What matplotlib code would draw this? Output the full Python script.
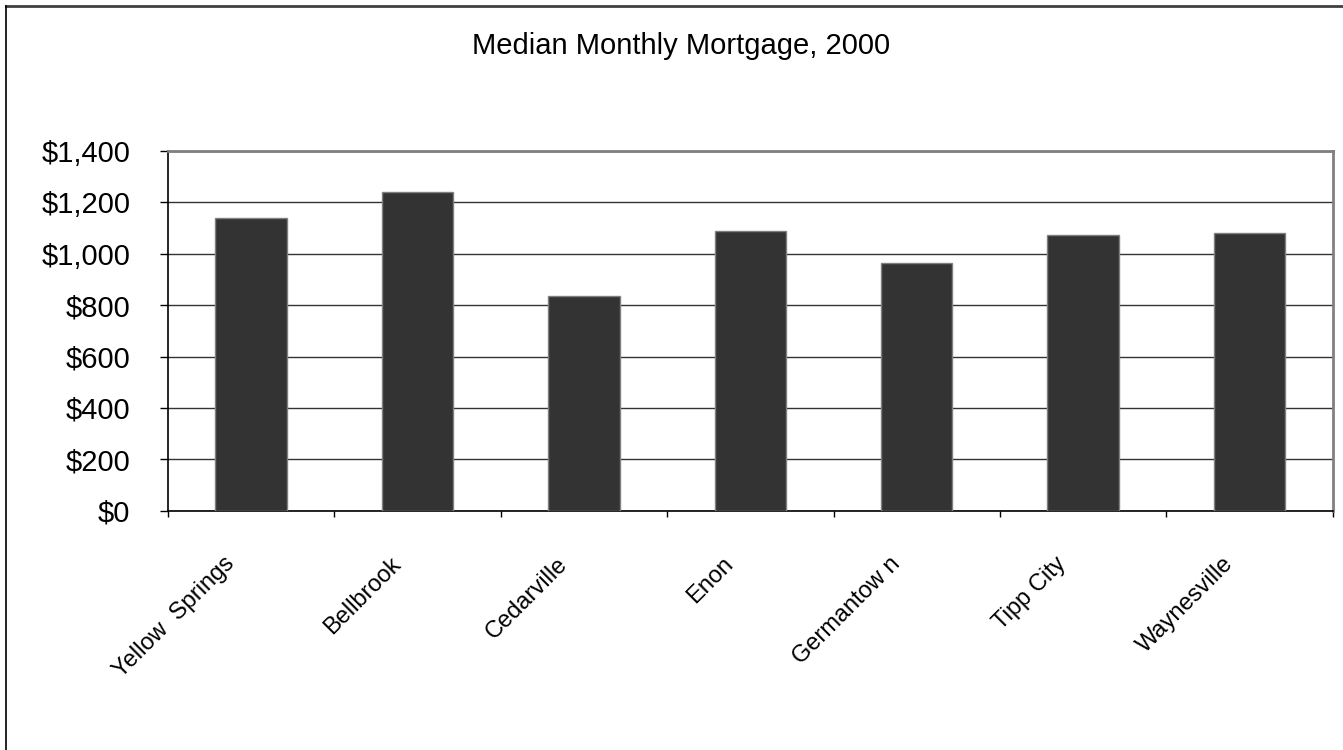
import matplotlib
matplotlib.use("Agg")
import matplotlib.pyplot as plt
from matplotlib.lines import Line2D
from matplotlib.ticker import FuncFormatter
from matplotlib.transforms import ScaledTranslation

# Median monthly mortgage by community, 2000
towns = ["Yellow  Springs", "Bellbrook", "Cedarville", "Enon",
         "Germantow n", "Tipp City", "Waynesville"]
mortgage = [1140, 1240, 835, 1090, 965, 1073, 1082]
y_ticks = [0, 200, 400, 600, 800, 1000, 1200, 1400]

plt.rcParams["font.family"] = ["Liberation Sans", "DejaVu Sans"]

fig = plt.figure(figsize=(13.43, 7.5), dpi=100)
ax = fig.add_axes([0.1251, 0.3191, 0.8672, 0.4796])

x = list(range(len(towns)))
ax.bar(x, mortgage, width=0.43, color="#333333", edgecolor="#808080",
       linewidth=1.0, zorder=3)

ax.set_xlim(-0.5, len(towns) - 0.5)
ax.set_ylim(0, 1400)
ax.set_yticks(y_ticks)
ax.yaxis.set_major_formatter(FuncFormatter(lambda v, p: f"${v:,.0f}"))
ax.grid(axis="y", color="#333333", linewidth=1.0, zorder=1)

# category boundaries carry the tick marks, centres carry the names
ax.set_xticks([i - 0.5 for i in range(len(towns) + 1)])
ax.set_xticklabels([])
ax.set_xticks(x, minor=True)
ax.set_xticklabels(towns, minor=True, rotation=45, ha="right", va="center",
                   rotation_mode="anchor", fontsize=17)

ax.tick_params(axis="x", which="major", direction="out", length=4,
               width=1, color="black")
ax.tick_params(axis="x", which="minor", length=0, pad=36)
ax.tick_params(axis="y", direction="out", length=6, width=1,
               color="black", labelsize=21, pad=21)

# nudge the slanted names a little to the left of the bar centres
shift = ScaledTranslation(-0.2, 0, fig.dpi_scale_trans)
for lab in ax.get_xticklabels(minor=True):
    lab.set_transform(lab.get_transform() + shift)

for side in ("top", "right"):
    ax.spines[side].set_color("#808080")
    ax.spines[side].set_linewidth(2)
for side in ("left", "bottom"):
    ax.spines[side].set_color("black")
    ax.spines[side].set_linewidth(1.2)

fig.text(0.507, 0.939, "Median Monthly Mortgage, 2000", ha="center",
         va="center", fontsize=21)

# chart frame along the top and left edges
fig.add_artist(Line2D([6 / 1343, 1], [1 - 6 / 750, 1 - 6 / 750],
                      transform=fig.transFigure, color="#404040", linewidth=2))
fig.add_artist(Line2D([6 / 1343, 6 / 1343], [0, 1 - 6 / 750],
                      transform=fig.transFigure, color="black", linewidth=1.2))

fig.savefig("out.png", dpi=100)
